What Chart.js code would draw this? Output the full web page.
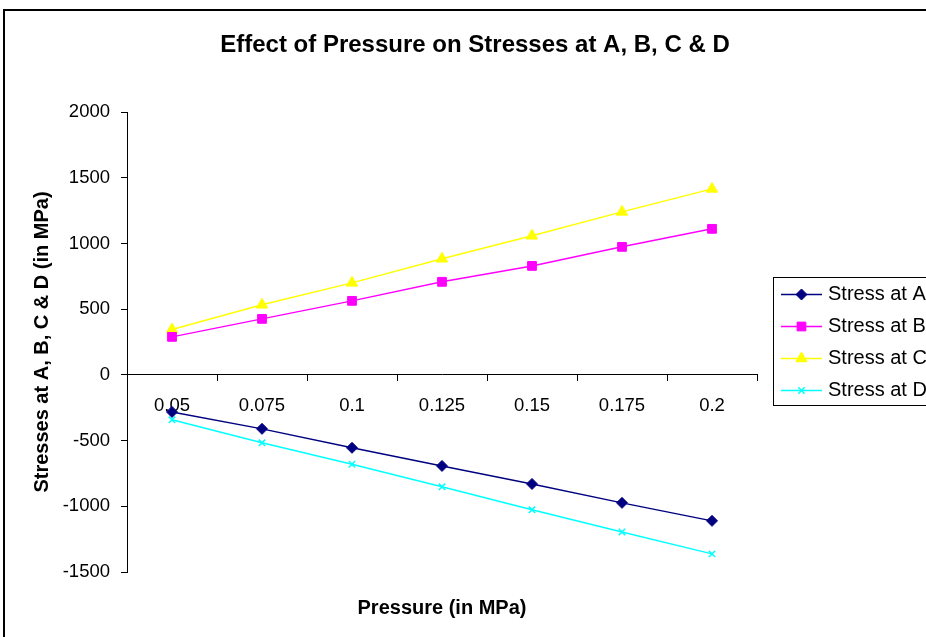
<!DOCTYPE html>
<html><head><meta charset="utf-8">
<script src="https://cdn.jsdelivr.net/npm/chart.js@4/dist/chart.umd.min.js"></script>
<style>
html,body{margin:0;padding:0;background:#fff;overflow:hidden;width:926px;height:637px;}
#wrap{position:relative;width:950px;height:637px;}
</style></head><body>
<div id="wrap"><canvas id="c"></canvas></div>
<script>
// ---- data ----
const categories = ['0.05', '0.075', '0.1', '0.125', '0.15', '0.175', '0.2'];
const stressA = [-282, -411, -555, -693, -830, -974, -1111];
const stressB = [289, 426, 563, 708, 829, 974, 1111];
const stressC = [345, 533, 700, 883, 1058, 1240, 1415];
const stressD = [-342, -517, -680, -852, -1027, -1195, -1362];
const seriesNames = ['Stress at A', 'Stress at B', 'Stress at C', 'Stress at D'];
const yMin = -1500, yMax = 2000, yStep = 500;
const chartTitle = 'Effect of Pressure on Stresses at A, B, C & D';
const xTitle = 'Pressure (in MPa)';
const yTitle = 'Stresses at A, B, C & D (in MPa)';

const FONT = '"Liberation Sans", Arial, Helvetica, sans-serif';
Chart.defaults.font.family = FONT;
Chart.defaults.color = '#000';

function drawMarker(ctx, style, r, x, y, fill, stroke, lw) {
  if (Chart.helpers && Chart.helpers.drawPoint) {
    ctx.fillStyle = fill; ctx.strokeStyle = stroke; ctx.lineWidth = lw;
    Chart.helpers.drawPoint(ctx, {pointStyle: style, radius: r, rotation: 0, borderWidth: lw}, x, y);
    return;
  }
  ctx.save(); ctx.fillStyle = fill; ctx.strokeStyle = stroke; ctx.lineWidth = lw;
  ctx.beginPath();
  if (style === 'rectRot') { ctx.moveTo(x - r, y); ctx.lineTo(x, y - r); ctx.lineTo(x + r, y); ctx.lineTo(x, y + r); ctx.closePath(); ctx.fill(); ctx.stroke(); }
  else if (style === 'rect') { const s = r * Math.SQRT1_2; ctx.rect(x - s, y - s, 2 * s, 2 * s); ctx.fill(); ctx.stroke(); }
  else if (style === 'triangle') { ctx.moveTo(x, y - r); ctx.lineTo(x + r * 0.866, y + r / 2); ctx.lineTo(x - r * 0.866, y + r / 2); ctx.closePath(); ctx.fill(); ctx.stroke(); }
  else if (style === 'crossRot') { const d = r * 0.7071; ctx.moveTo(x - d, y - d); ctx.lineTo(x + d, y + d); ctx.moveTo(x + d, y - d); ctx.lineTo(x - d, y + d); ctx.stroke(); }
  ctx.restore();
}

const frameAndLegend = {
  id: 'frameAndLegend',
  afterDraw(chart) {
    const ctx = chart.ctx;
    ctx.save();
    // outer frame
    ctx.strokeStyle = '#000'; ctx.lineWidth = 2;
    ctx.strokeRect(4, 10, 942, 700);
    // legend box
    const bx = 773.5, by = 277.5, bw = 172, bh = 128, rowH = 32;
    ctx.lineWidth = 1; ctx.strokeStyle = '#000';
    ctx.fillStyle = '#fff';
    ctx.fillRect(bx, by, bw, bh);
    ctx.strokeRect(bx, by, bw, bh);
    ctx.font = '20px ' + FONT;
    ctx.textBaseline = 'middle'; ctx.textAlign = 'left';
    chart.data.datasets.forEach((ds, i) => {
      const y = 277 + rowH / 2 + rowH * i + 1.5;
      ctx.strokeStyle = ds.borderColor; ctx.lineWidth = ds.borderWidth;
      ctx.beginPath(); ctx.moveTo(781, y); ctx.lineTo(822, y); ctx.stroke();
      drawMarker(ctx, ds.pointStyle, ds.pointRadius, 801.5, y, ds.pointBackgroundColor, ds.pointBorderColor, ds.pointBorderWidth);
      ctx.fillStyle = '#000';
      ctx.fillText(ds.label, 828, y);
    });
    ctx.restore();
  }
};

const colors = ['#000080', '#FF00FF', '#FFFF00', '#00FFFF'];
const styles = ['rectRot', 'rect', 'triangle', 'crossRot'];
const radii = [5.5, 6.2, 6.5, 4.5];
const values = [stressA, stressB, stressC, stressD];

const datasets = values.map((v, i) => ({
  label: seriesNames[i],
  data: v,
  borderColor: colors[i],
  backgroundColor: colors[i],
  pointBackgroundColor: colors[i],
  pointBorderColor: colors[i],
  pointStyle: styles[i],
  pointRadius: radii[i],
  pointHoverRadius: radii[i],
  pointBorderWidth: styles[i] === 'crossRot' ? 1.5 : 1,
  borderWidth: 1.5,
  tension: 0,
  fill: false,
  xAxisID: 'x',
  yAxisID: 'y'
}));

new Chart(document.getElementById('c'), {
  type: 'line',
  data: { labels: categories, datasets },
  options: {
    responsive: true,
    maintainAspectRatio: false,
    animation: false,
    events: [],
    layout: { padding: { left: 0, top: 10, right: 0, bottom: 0 } },
    plugins: {
      legend: { display: false },
      tooltip: { enabled: false },
      title: {
        display: true, text: chartTitle, color: '#000',
        font: { size: 24, weight: 'bold' },
        padding: { top: 20.6, bottom: 52.6 }
      }
    },
    scales: {
      x: {
        type: 'category',
        position: { y: 0 },
        offset: true,
        grid: { display: true, offset: true, drawOnChartArea: false, drawTicks: true, tickLength: 6, color: '#000', lineWidth: 1 },
        border: { display: true, color: '#000', width: 1 },
        ticks: { padding: 14, font: { size: 18.5 }, color: '#000', maxRotation: 0, autoSkip: false }
      },
      x2: {
        type: 'category',
        position: 'bottom',
        labels: categories,
        grid: { display: false },
        border: { display: false },
        ticks: { display: false },
        title: { display: true, text: xTitle, color: '#000', font: { size: 20, weight: 'bold' }, padding: { top: 0, bottom: 17 } },
        afterFit(s) { s.height = 65; }
      },
      y: {
        type: 'linear',
        position: 'left',
        min: yMin, max: yMax,
        ticks: { stepSize: yStep, padding: 11, font: { size: 18.5 }, color: '#000', callback: (v) => String(v) },
        grid: { drawOnChartArea: false, drawTicks: true, tickLength: 6, color: '#000' },
        border: { display: true, color: '#000', width: 1 },
        title: { display: true, text: yTitle, color: '#000', font: { size: 20, weight: 'bold' }, padding: { top: 30.5, bottom: 0 } },
        afterFit(s) { s.width = 127; }
      },
      y2: {
        type: 'linear',
        position: 'right',
        min: yMin, max: yMax,
        grid: { display: false },
        border: { display: false },
        ticks: { display: false },
        afterFit(s) { s.width = 193; }
      }
    }
  },
  plugins: [frameAndLegend]
});
</script>
</body></html>
